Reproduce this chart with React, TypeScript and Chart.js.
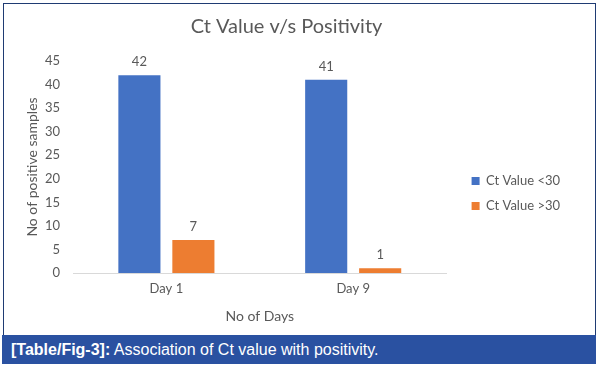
import React, { useEffect, useRef } from "react";
import { Chart, registerables } from "chart.js";

Chart.register(...registerables);

const categories = ["Day 1", "Day 9"];
const seriesLabels = ["Ct Value <30", "Ct Value >30"];
const below30 = [42, 41];
const above30 = [7, 1];
const yTicks = [0, 5, 10, 15, 20, 25, 30, 35, 40, 45];

const FONT = "Lato, 'Open Sans', sans-serif";
const GRAY = "#595959";

const valueLabels = {
  id: "valueLabels",
  afterDatasetsDraw(chart: any) {
    const ctx = chart.ctx;
    ctx.save();
    ctx.font = `13px ${FONT}`;
    ctx.fillStyle = GRAY;
    ctx.textAlign = "center";
    ctx.textBaseline = "middle";
    chart.data.datasets.forEach((ds: any, i: number) => {
      const meta = chart.getDatasetMeta(i);
      if (meta.hidden || !meta.data) return;
      meta.data.forEach((bar: any, j: number) => {
        ctx.fillText(String(ds.data[j]), bar.x, bar.y - 13);
      });
    });
    ctx.restore();
  },
};

const legendOffset = {
  id: "legendOffset",
  afterLayout(chart: any) {
    const l = chart.legend;
    if (!l) return;
    l.left += 13;
    l.right += 13;
  },
};

export default function App() {
  const ref = useRef<HTMLCanvasElement | null>(null);
  useEffect(() => {
    document.body.style.margin = "0";
    const chart = new Chart(ref.current!, {
      type: "bar",
      data: {
        labels: categories,
        datasets: [
          { label: seriesLabels[0], data: below30, backgroundColor: "#4472C4" },
          { label: seriesLabels[1], data: above30, backgroundColor: "#ED7D31" },
        ],
      },
      options: {
        animation: false,
        responsive: false,
        maintainAspectRatio: false,
        layout: { padding: { left: 12, right: 37, top: 6, bottom: 6 } },
        datasets: { bar: { categoryPercentage: 0.578, barPercentage: 0.78 } },
        plugins: {
          tooltip: { enabled: false },
          title: {
            display: true,
            text: "Ct Value v/s Positivity",
            color: GRAY,
            font: { family: FONT, size: 20, weight: "normal" },
            padding: { top: 5, bottom: 22 },
          },
          legend: {
            position: "right",
            align: "center",
            title: { display: true, text: " ", padding: { top: 24, bottom: 24 }, font: { size: 1 } },
            labels: {
              boxWidth: 8,
              boxHeight: 8,
              padding: 12,
              color: GRAY,
              font: { family: FONT, size: 13 },
            },
          },
        },
        scales: {
          x: {
            grid: { display: false },
            border: { display: true, color: "#d9d9d9" },
            ticks: { color: GRAY, font: { family: FONT, size: 13 }, padding: 0 },
            title: {
              display: true,
              text: "No of Days",
              color: GRAY,
              font: { family: FONT, size: 14 },
              padding: { top: 4, bottom: 3 },
            },
            afterFit: (axis: any) => {
              axis.height = 55;
            },
          },
          y: {
            min: 0,
            max: 45,
            afterBuildTicks: (axis: any) => {
              axis.ticks = yTicks.map((v) => ({ value: v }));
            },
            grid: { display: false },
            border: { display: false },
            ticks: { color: GRAY, font: { family: FONT, size: 13 }, padding: 5 },
            title: {
              display: true,
              text: "No of positive samples",
              color: GRAY,
              font: { family: FONT, size: 14 },
              padding: { top: 8, bottom: 4 },
            },
            afterFit: (axis: any) => {
              axis.width = 57;
            },
          },
        },
      },
      plugins: [valueLabels, legendOffset],
    });
    return () => chart.destroy();
  }, []);

  return (
    <div style={{ position: "relative", width: 599, height: 369, background: "#fff" }}>
      <div
        style={{
          position: "absolute",
          left: 3,
          top: 3,
          width: 591,
          height: 332,
          borderLeft: "1px solid #1f3b73",
          borderTop: "1px solid #1f3b73",
          borderRight: "1px solid #1f3b73",
        }}
      />
      <canvas
        ref={ref}
        width={590}
        height={330}
        style={{ position: "absolute", left: 4, top: 4, width: 590, height: 330 }}
      />
      <div
        style={{
          position: "absolute",
          left: 2,
          top: 335,
          width: 594,
          height: 29,
          background: "#2a51a1",
          color: "#fff",
          fontFamily: "'Liberation Sans', Arial, sans-serif",
          fontSize: 16,
          lineHeight: "29px",
          paddingLeft: 9,
          boxSizing: "border-box",
          whiteSpace: "nowrap",
        }}
      >
        <b>[Table/Fig-3]:</b> Association of Ct value with positivity.
      </div>
    </div>
  );
}
